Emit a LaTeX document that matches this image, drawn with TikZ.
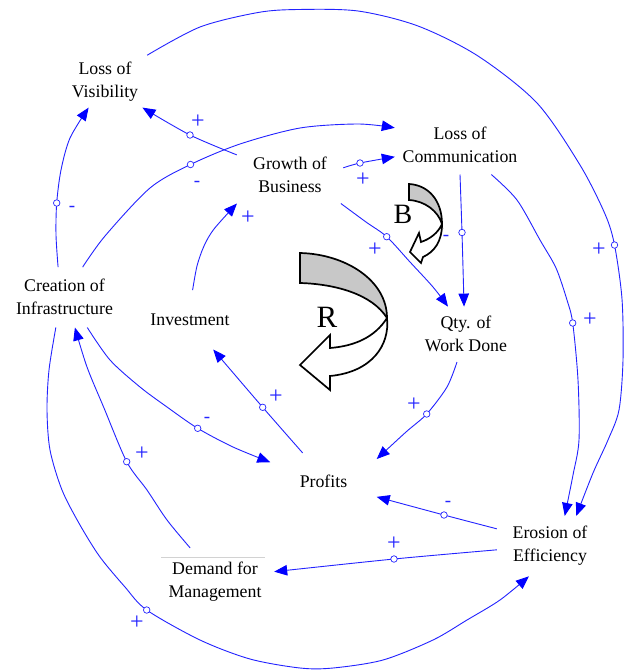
\documentclass[tikz,border=0pt]{standalone}
\usepackage{fontspec}
\setmainfont{Liberation Serif}
\usetikzlibrary{arrows.meta}
\definecolor{linkblue}{RGB}{35,35,255}
\definecolor{tipblue}{RGB}{0,0,255}
\definecolor{bandgrey}{RGB}{200,200,200}
\begin{document}
\begin{tikzpicture}[x=1pt,y=-1pt,
  var/.style={fill=white, inner sep=0pt, align=center, font=\fontsize{17.8pt}{23pt}\selectfont},
  link/.style={draw=linkblue, line width=0.9pt, -{Triangle[length=13pt,width=10.5pt,color=tipblue]}},
  circ/.style={circle, draw=linkblue, fill=white, line width=0.7pt, inner sep=0pt, minimum size=6.5pt},
  polsign/.style={text=linkblue, inner sep=0pt, font=\fontsize{24pt}{24pt}\selectfont},
  negsign/.style={text=linkblue, inner sep=0pt, font=\fontsize{19pt}{19pt}\selectfont},
  loopshape/.style={draw=black, line width=1.7pt},
  loopletter/.style={inner sep=0pt}
]
\fill[white] (0,0) rectangle (624,670);
\useasboundingbox (0,0) rectangle (624,670);

% variables
\node[var, minimum width=84pt, minimum height=52pt] (lov) at (105,81.4) {Loss of\\Visibility};
\node[var, minimum width=130pt, minimum height=58pt] (loc) at (460,145.3) {Loss of\\Communication};
\node[var, minimum width=106pt, minimum height=56pt] (gob) at (290,175.3) {Growth of\\Business};
\node[var, minimum width=100pt, minimum height=60pt] (cci) at (64.5,297.3) {Creation of\\Infrastructure};
\node[var, minimum width=90pt, minimum height=59pt] (inv) at (190,319.8) {Investment};
\node[var, minimum width=100pt, minimum height=55pt] (qwd) at (466,334.3) {Qty. of\\Work Done};
\node[var, minimum width=106pt, minimum height=57pt] (prf) at (323.5,481.6) {Profits};
\node[var, minimum width=106pt, minimum height=60pt] (eoe) at (550,546.1) {Erosion of\\Efficiency};
\node[var, minimum width=118pt, minimum height=68pt] (dfm) at (215,582.1) {Demand for\\Management};
\draw[gray!35, line width=0.8pt] ([shift={(-54,-25)}]dfm.center) -- ([shift={(50,-25)}]dfm.center);

% link markers
\coordinate (m1) at (190,135);
\coordinate (m2) at (190.5,164.5);
\coordinate (m3) at (56.7,203);
\coordinate (m5) at (360,163);
\coordinate (m6) at (386.7,236.7);
\coordinate (m7) at (462,232.5);
\coordinate (m8) at (572.7,323);
\coordinate (m9) at (614.5,245);
\coordinate (m10) at (426.7,414);
\coordinate (m11) at (444,515);
\coordinate (m12) at (394,559);
\coordinate (m13) at (197.7,428.3);
\coordinate (m14) at (262.7,407.3);
\coordinate (m15) at (126.7,461.7);
\coordinate (m16) at (146.7,610);

% links
\draw[link] plot[smooth] coordinates {(gob.159) (m1) (lov.-35)};
\draw[link] plot[smooth] coordinates {(cci.59) (105,236) (150,188) (m2) (240,144) (300,128) (358,124) (loc.165)};
\draw[link] plot[smooth] coordinates {(cci.102) (56,235) (m3) (61,170) (70,138) (lov.-122)};
\draw[link] plot[smooth] coordinates {(inv.85) (197,266) (204,246) (214,229) (gob.-152)};
\draw[link] plot[smooth] coordinates {(gob.8) (m5) (loc.190)};
\draw[link] plot[smooth] coordinates {(gob.-29) (366,222) (m6) (410,262) (433,287) (qwd.123)};
\draw[link] plot[smooth] coordinates {(loc.-90) (m7) (qwd.94)};
\draw[link] plot[smooth] coordinates {(loc.-43) (517,200) (540,240) (556,268) (567,300) (m8) (578,380) (579,440) (573,475) (eoe.64)};
\draw[link] plot[smooth] coordinates {(lov.north east) (200,27) (258,12.5) (298,9.5) (358,11) (418,26) (478,56) (537,103) (580,165) (605,214) (m9) (622,299) (623,360) (619,410) (608,440) (593,473) (eoe.49)};
\draw[link] plot[smooth] coordinates {(qwd.-108) (447,387) (m10) (406,432) (prf.23)};
\draw[link] plot[smooth] coordinates {(eoe.162) (m11) (prf.-16)};
\draw[link] plot[smooth] coordinates {(eoe.184) (m12) (dfm.10)};
\draw[link] plot[smooth] coordinates {(cci.-53) (110,360) (140,387) (167,407) (m13) (233,447) (prf.160)};
\draw[link] plot[smooth] coordinates {(prf.126) (m14) (inv.-52)};
\draw[link] plot[smooth] coordinates {(dfm.126) (167,520) (147,490) (m15) (104,408) (87,367) (cci.-71)};
\draw[link] plot[smooth] coordinates {(cci.-106) (49,370) (47,410) (50,450) (62,490) (80,525) (100,557) (125,587) (m16) (200,640) (250,659) (300,668) (333,668) (383,660) (433,640) (467,620) (500,600) (eoe.-125)};

% circles on links
\foreach \k in {1,2,3,5,6,7,8,9,10,11,12,13,14,15,16}
  \node[circ] (k\k) at (m\k) {};

% polarity signs
\node[polsign] (s1) at (198,122) {+};
\node[negsign] (s2) at (197,184) {-};
\node[negsign] (s3) at (72,209) {-};
\node[polsign] (s4) at (248,218) {+};
\node[polsign] (s5) at (363,180) {+};
\node[polsign] (s6) at (375,250) {+};
\node[negsign] (s7) at (446,238) {-};
\node[polsign] (s8) at (590,320) {+};
\node[polsign] (s9) at (599,250) {+};
\node[polsign] (s10) at (414,405) {+};
\node[negsign] (s11) at (448,504) {-};
\node[polsign] (s12) at (394,544) {+};
\node[negsign] (s13) at (207,420) {-};
\node[polsign] (s14) at (276,397) {+};
\node[polsign] (s15) at (142,454) {+};
\node[polsign] (s16) at (137,623) {+};

% loop symbol B
\draw[loopshape, fill=bandgrey] (409,184) .. controls (428,185) and (442,200) .. (442,224) .. controls (438,211) and (425,201) .. (409,200) -- cycle;
\draw[loopshape, fill=white] (442,224) .. controls (442,242) and (434,252) .. (423,257) -- (421,263) -- (410,252) -- (419,233) -- (421,242) .. controls (430,239) and (438,233) .. (442,224) -- cycle;
\node[loopletter, font=\fontsize{28pt}{28pt}\selectfont] (lb) at (403,214.5) {B};

% loop symbol R
\draw[loopshape, fill=bandgrey] (300,253) .. controls (345,254) and (387,280) .. (387,318) .. controls (372,294) and (335,284) .. (300,283) -- cycle;
\draw[loopshape, fill=white] (387,318) .. controls (390,345) and (372,372) .. (330,376) -- (330,390) -- (300,365) -- (330,335) -- (330,348) .. controls (355,346) and (375,337) .. (387,318) -- cycle;
\node[loopletter, font=\fontsize{31pt}{31pt}\selectfont] (lr) at (327,317.5) {R};
\end{tikzpicture}
\end{document}
